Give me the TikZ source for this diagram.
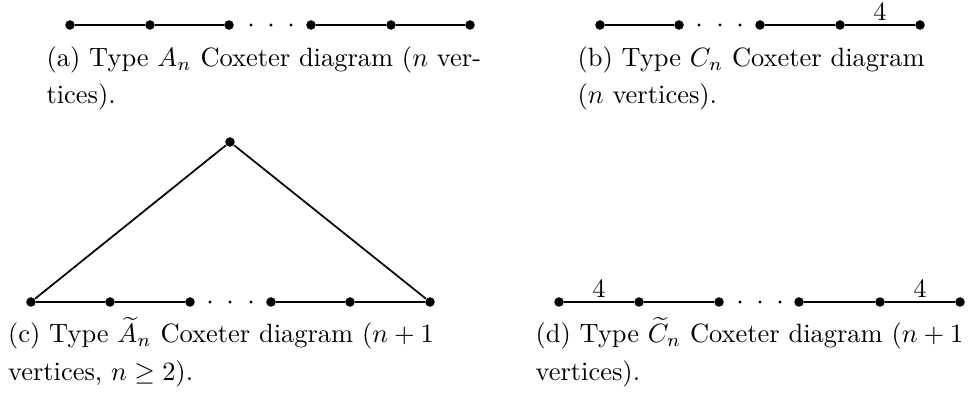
\documentclass[tikz,border=0pt]{standalone}
\usepackage{amsmath, amssymb}
\usepackage{tikz}

\begin{document}
\begin{tikzpicture}[x=0.378pt, y=-0.378pt,
    vert/.style={circle, fill=black, inner sep=0pt, minimum size=3.6pt},
    gapdot/.style={circle, fill=black, inner sep=0pt, minimum size=1.3pt},
    edge/.style={line width=0.65pt},
    weight/.style={above, inner sep=1.5pt},
    captext/.style={anchor=base west, align=left, inner sep=0pt,
        font=\fontsize{10}{14}\selectfont}]
    \useasboundingbox (0,0) rectangle (974,396);

    % Type A_n
    \foreach \name/\x in {a1/70, a2/150, a3/229, a4/311, a5/391, a6/470}
        \node[vert] (\name) at (\x,25) {};
    \foreach \name/\x in {ad1/251, ad2/271, ad3/291}
        \node[gapdot] (\name) at (\x,25) {};
    \draw[edge] (a1) -- (a2) -- (a3);
    \draw[edge] (a4) -- (a5) -- (a6);
    \node[captext] (capa) at (46,104) {(a) Type $A_n$ Coxeter diagram ($n$ ver-\\tices).};

    % Type C_n
    \foreach \name/\x in {b1/600, b2/679, b3/760, b4/840, b5/920}
        \node[vert] (\name) at (\x,25) {};
    \foreach \name/\x in {bd1/699, bd2/720, bd3/740}
        \node[gapdot] (\name) at (\x,25) {};
    \draw[edge] (b1) -- (b2);
    \draw[edge] (b3) -- (b4);
    \draw[edge] (b4) -- node[weight] {4} (b5);
    \node[captext] (capb) at (577,104) {(b) Type $C_n$ Coxeter diagram\\($n$ vertices).};

    % Type affine A_n
    \node[vert] (c0) at (230,142) {};
    \foreach \name/\x in {c1/31, c2/110, c3/190, c4/271, c5/350, c6/430}
        \node[vert] (\name) at (\x,302) {};
    \foreach \name/\x in {cd1/210, cd2/230, cd3/251}
        \node[gapdot] (\name) at (\x,302) {};
    \draw[edge] (c1) -- (c2) -- (c3);
    \draw[edge] (c4) -- (c5) -- (c6);
    \draw[edge] (c1) -- (c0) -- (c6);
    \node[captext] (capc) at (7.5,380) {(c) Type $\widetilde{A}_n$ Coxeter diagram ($n+1$\\vertices, $n\geq 2$).};

    % Type affine C_n
    \foreach \name/\x in {d1/559, d2/639, d3/719, d4/799, d5/880, d6/960}
        \node[vert] (\name) at (\x,302) {};
    \foreach \name/\x in {dd1/740, dd2/760, dd3/780}
        \node[gapdot] (\name) at (\x,302) {};
    \draw[edge] (d1) -- node[weight] {4} (d2);
    \draw[edge] (d2) -- (d3);
    \draw[edge] (d4) -- (d5);
    \draw[edge] (d5) -- node[weight] {4} (d6);
    \node[captext] (capd) at (535,380) {(d) Type $\widetilde{C}_n$ Coxeter diagram ($n+1$\\vertices).};
\end{tikzpicture}
\end{document}
